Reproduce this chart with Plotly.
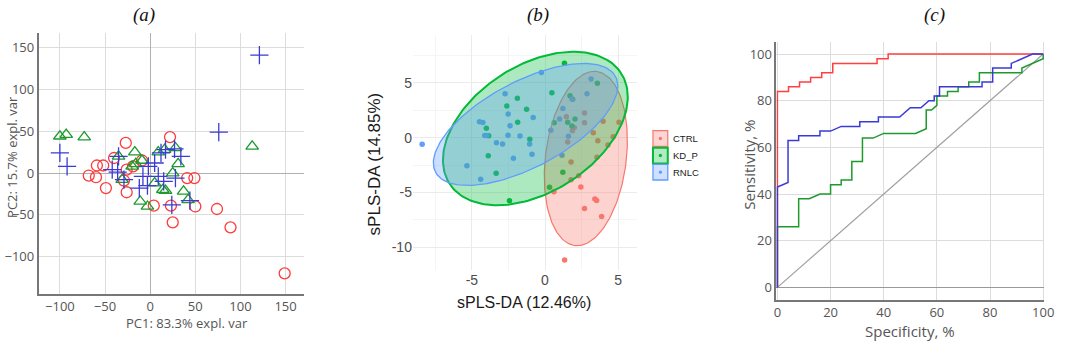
import numpy as np
import plotly.graph_objects as go

W, H = 1065, 342

# ---------------- Panel (a): PCA scores ----------------
PCA_CTRL_X = [22, -27, -40, -9, -59, -52, -68, -60, -49, -19, -26, -29, -26, 4, 23, 25, 41, 49, 50, 74, 89, 149]
PCA_CTRL_Y = [43, 36, 18, 15, 9, 9, -3, -5, -18, 8, 4, -9, -23, -39, -39, -59, -6, -6, -40, -43, -65, -120]
PCA_KD_X = [-100, -93, -73, 113, -35, -17, -16, -9, -20, 9, 16, 28, 31, 25, 5, 14, 17, 37, 42, -11, -3, -31]
PCA_KD_Y = [44, 46, 43, 32, 20, 25, 11, 15, 8, 25, 28, 30, 11, 0, -12, -20, -21, -22, -32, -34, -40, -8]
PCA_RNLC_X = [121, 76, -100, -92, -42, -36, -35, -29, -2, 5, 12, 17, 27, 34, -8, 9, 15, 28, -12, -3, 24, 44]
PCA_RNLC_Y = [141, 49, 24, 8, 4, 1, 20, -8, 8, 12, 24, 28, 29, 20, -4, -4, -10, -6, -18, -15, -38, -33]
PCA_TICKS = [-100, -50, 0, 50, 100, 150]

# ---------------- Panel (b): sPLS-DA ----------------
GROUPS = ["CTRL", "KD_P", "RNLC"]
SPLS_CTRL_X = [1.46, 2.7, 2.7, 2.0, 1.87, 1.55, 3.97, 3.3, 5.06, 4.66, 3.61, 4.3, 3.55, 1.78, 2.3, 1.78, 2.45, 0.61, 3.41, 3.53, 2.7, 3.87, 1.34]
SPLS_CTRL_Y = [1.92, 2.25, 1.37, 0.9, 0.64, -0.4, 1.49, 0.46, 1.42, 0.09, -0.28, -0.67, -1.79, -2.22, -3.47, -3.83, -4.5, -4.93, -5.6, -5.72, -6.47, -7.2, -11.16]
SPLS_KD_X = [1.33, 3.58, 0.47, -1.89, -2.61, -1.26, 1.71, 1.89, -1.87, 0.63, 1.55, 2.05, 1.84, -4.01, -3.85, -1.04, -3.88, -3.34, 1.22, 0.31, -2.43]
SPLS_KD_Y = [6.79, 4.96, 4.11, 3.59, 2.89, 2.59, 3.83, 3.5, 1.4, 1.37, 1.4, 1.71, 1.07, 0.86, 0.18, -0.15, -1.64, -3.25, -3.16, -4.53, -5.75]
SPLS_RNLC_X = [-8.4, -0.25, 3.15, -2.73, -4.48, -4.25, -4.12, -3.98, -2.52, -2.39, -2.53, -1.71, -0.81, -1.05, -0.89, -3.32, -2.9, -2.16, -5.34, -4.4, 0.4, 1.0, 1.22, 1.6, 1.16, 1.85, 2.87]
SPLS_RNLC_Y = [-0.6, 5.95, 5.36, 4.02, 1.46, 1.38, 0.2, 0.2, 2.16, 1.08, 0.23, 0.16, 1.85, -0.58, -1.5, -0.46, -0.58, -1.88, -2.56, -3.8, 0.68, 1.7, 2.67, 0.13, -1.6, 3.52, 4.02]
# confidence ellipses: centre, semi-axes, rotation (deg) for CTRL, KD_P, RNLC
ELL_CX = [2.79, -0.66, -1.33]
ELL_CY = [-1.90, 0.84, 1.21]
ELL_A = [7.98, 7.95, 7.61]
ELL_B = [2.77, 5.07, 3.58]
ELL_ANG = [85.2, 52.0, 39.4]
SPLS_XTICKS = [-5, 0, 5]
SPLS_XLABELS = ["-5", "0", "5"]
SPLS_YTICKS = [-10, -5, 0, 5]
SPLS_YLABELS = ["-10", "-5", "0", "5"]

# ---------------- Panel (c): ROC curves ----------------
ROC_RED_X = [0, 0, 4.17, 4.17, 8.33, 8.33, 12.5, 12.5, 16.67, 16.67, 20.83, 20.83, 37.5, 37.5, 41.67, 41.67, 100]
ROC_RED_Y = [0, 84, 84, 86, 86, 88, 88, 90, 90, 92, 92, 96, 96, 98, 98, 100, 100]
ROC_BLUE_X = [0, 0, 4, 4, 8, 8, 16, 16, 20, 24, 31, 31, 38, 38, 46, 48, 50, 54, 57, 59, 59, 61, 61, 77, 77, 81, 81, 88, 88, 96, 100]
ROC_BLUE_Y = [0, 43, 45, 63, 63, 65, 65, 67, 67, 69, 69, 71, 71, 73, 73, 75, 77, 77, 80, 80, 82, 82, 86, 86, 88, 88, 94, 94, 96, 100, 100]
ROC_GREEN_X = [0, 0, 8, 8, 12, 16, 20, 20, 24, 24, 28, 28, 32, 32, 36, 40, 52, 56, 56, 58, 60, 60, 64, 64, 68, 68, 72, 72, 76, 76, 92, 92, 100, 100]
ROC_GREEN_Y = [0, 26, 26, 38, 38, 40, 40, 44, 44, 46, 46, 54, 54, 64, 64, 66, 66, 68, 76, 76, 78, 82, 82, 84, 84, 86, 86, 88, 88, 92, 92, 94, 98, 100]
ROC_DIAG = [0, 100]
ROC_TICKS = [0, 20, 40, 60, 80, 100]

fig = go.Figure()

def fx(p):
    return p / W

def fy(p):
    return 1 - p / H

# ---- panel a traces
RED_A, GREEN_A, BLUE_A = "#ff3b3b", "#1c9a2c", "#3a3ad6"
fig.add_trace(go.Scatter(x=PCA_CTRL_X, y=PCA_CTRL_Y, mode="markers", xaxis="x", yaxis="y",
                         marker=dict(symbol="circle-open", size=11, color=RED_A, line=dict(width=1.3, color=RED_A))))
fig.add_trace(go.Scatter(x=PCA_KD_X, y=PCA_KD_Y, mode="markers", xaxis="x", yaxis="y",
                         marker=dict(symbol="triangle-up-open", size=11, color=GREEN_A, line=dict(width=1.3, color=GREEN_A))))
fig.add_trace(go.Scatter(x=PCA_RNLC_X, y=PCA_RNLC_Y, mode="markers", xaxis="x", yaxis="y",
                         marker=dict(symbol="cross-thin-open", size=13, color=BLUE_A, line=dict(width=1.3, color=BLUE_A))))

# ---- panel b traces
GG = ["#F8766D", "#00BA38", "#619CFF"]
GG_RGB = [(248, 118, 109), (0, 186, 56), (97, 156, 255)]
ELL_LW = [1.2, 2.0, 1.3]
pts = [(SPLS_CTRL_X, SPLS_CTRL_Y), (SPLS_KD_X, SPLS_KD_Y), (SPLS_RNLC_X, SPLS_RNLC_Y)]
for (xs, ys), col in zip(pts, GG):
    fig.add_trace(go.Scatter(x=xs, y=ys, mode="markers", xaxis="x2", yaxis="y2",
                             marker=dict(size=5.5, color=col, line=dict(width=0))))
phi = np.linspace(0, 2 * np.pi, 200)
for i in range(3):
    th = np.deg2rad(ELL_ANG[i])
    ex = ELL_CX[i] + ELL_A[i] * np.cos(th) * np.cos(phi) - ELL_B[i] * np.sin(th) * np.sin(phi)
    ey = ELL_CY[i] + ELL_A[i] * np.sin(th) * np.cos(phi) + ELL_B[i] * np.cos(th) * np.sin(phi)
    r, g, b = GG_RGB[i]
    fig.add_trace(go.Scatter(x=ex, y=ey, mode="lines", fill="toself", xaxis="x2", yaxis="y2",
                             fillcolor=f"rgba({r},{g},{b},0.32)",
                             line=dict(color=GG[i], width=ELL_LW[i])))

# ---- panel c traces
fig.add_trace(go.Scatter(x=ROC_DIAG, y=ROC_DIAG, mode="lines", xaxis="x3", yaxis="y3",
                         line=dict(color="#a0a0a0", width=1.2)))
fig.add_trace(go.Scatter(x=ROC_GREEN_X, y=ROC_GREEN_Y, mode="lines", xaxis="x3", yaxis="y3",
                         line=dict(color="#1c9a2c", width=1.5)))
fig.add_trace(go.Scatter(x=ROC_RED_X, y=ROC_RED_Y, mode="lines", xaxis="x3", yaxis="y3",
                         line=dict(color="#ff4040", width=1.5)))
fig.add_trace(go.Scatter(x=ROC_BLUE_X, y=ROC_BLUE_Y, mode="lines", xaxis="x3", yaxis="y3",
                         line=dict(color="#3a3ad6", width=1.5)))

TF_A = dict(family="Open Sans", size=13, color="#555555")
TF_B = dict(family="Liberation Sans", size=14, color="#4d4d4d")

common_ac = dict(showgrid=True, gridcolor="#dcdcdc", gridwidth=1, ticks="",
                 showline=True, linecolor="#777777", linewidth=1.5, tickfont=TF_A)

fig.update_layout(
    width=W, height=H, margin=dict(l=0, r=0, t=0, b=0),
    paper_bgcolor="white", plot_bgcolor="white", showlegend=False,
    xaxis=dict(domain=[fx(36), fx(305)], range=[-123.6, 170.7], tickvals=PCA_TICKS, anchor="y",
               zeroline=True, zerolinecolor="#b0b0b0", zerolinewidth=1, **common_ac),
    yaxis=dict(domain=[fy(294), fy(33)], range=[-144.7, 167.5], tickvals=PCA_TICKS, anchor="x",
               zeroline=True, zerolinecolor="#b0b0b0", zerolinewidth=1, **common_ac),
    xaxis2=dict(domain=[fx(415), fx(642)], range=[-9.03, 6.3], tickvals=SPLS_XTICKS, ticktext=SPLS_XLABELS,
                anchor="y2", showgrid=True, gridcolor="#ebebeb", gridwidth=1, zeroline=False, showline=False,
                ticks="", tickfont=TF_B,
                minor=dict(tickmode="array", tickvals=[-7.5, -2.5, 2.5], showgrid=True, gridcolor="#f5f5f5", gridwidth=0.8)),
    yaxis2=dict(domain=[fy(270), fy(35)], range=[-12.07, 9.37], tickvals=SPLS_YTICKS, ticktext=SPLS_YLABELS,
                anchor="x2", showgrid=True, gridcolor="#ebebeb", gridwidth=1, zeroline=False, showline=False,
                ticks="", tickfont=TF_B,
                minor=dict(tickmode="array", tickvals=[-7.5, -2.5, 2.5, 7.5], showgrid=True, gridcolor="#f5f5f5", gridwidth=0.8)),
    xaxis3=dict(domain=[fx(782.9), fx(1054.1)], range=[-0.4, 100.4], tickvals=ROC_TICKS, anchor="y3",
                zeroline=False, **common_ac),
    yaxis3=dict(domain=[fy(300), fy(41.7)], range=[-5.4, 105.3], tickvals=ROC_TICKS, anchor="x3",
                zeroline=True, zerolinecolor="#999999", zerolinewidth=1.2, **common_ac),
)

ann = []
def text(x, y, s, font, angle=0, xanchor="center"):
    ann.append(dict(x=fx(x), y=fy(y), xref="paper", yref="paper", text=s, showarrow=False,
                    font=font, textangle=angle, xanchor=xanchor, yanchor="middle"))

TITLE_F = dict(family="Liberation Serif", size=19, color="#111111")
text(143, 15, "<i>(a)</i>", TITLE_F)
text(542, 15, "<i>(b)</i>", TITLE_F)
text(943, 15, "<i>(c)</i>", TITLE_F)

AX_A = dict(family="Open Sans", size=13, color="#555555")
text(186, 323, "PC1: 83.3% expl. var", AX_A)
text(9, 157, "PC2: 15.7% expl. var", AX_A, angle=-90)
AX_B = dict(family="Liberation Sans", size=16, color="#1a1a1a")
text(527.5, 302.7, "sPLS-DA (12.46%)", AX_B)
text(376, 164, "sPLS-DA (14.85%)", dict(family="Liberation Sans", size=17, color="#1a1a1a"), angle=-90)
AX_C = dict(family="Open Sans", size=15, color="#555555")
text(918, 331, "Specificity, %", AX_C)
text(755, 165, "Sensitivity, %", AX_C, angle=-90)

# legend for panel b (drawn as layout shapes)
shapes = []
LEG_TOP = [130.7, 147.7, 164.3]
for i, g in enumerate(GROUPS):
    r, gg, b = GG_RGB[i]
    y0, y1 = LEG_TOP[i], LEG_TOP[i] + 15.7
    shapes.append(dict(type="rect", xref="paper", yref="paper", x0=fx(658), x1=fx(673), y0=fy(y1), y1=fy(y0),
                       fillcolor=f"rgba({r},{gg},{b},0.3)", line=dict(color=GG[i], width=ELL_LW[i])))
    yc = (y0 + y1) / 2
    shapes.append(dict(type="circle", xref="paper", yref="paper", x0=fx(663.8), x1=fx(667.2), y0=fy(yc + 1.7), y1=fy(yc - 1.7),
                       fillcolor=GG[i], line=dict(width=0)))
    text(676, yc, g, dict(family="Liberation Sans", size=9.5, color="#1a1a1a"), xanchor="left")

fig.update_layout(annotations=ann, shapes=shapes)
fig.write_html("out.html", config={"displayModeBar": False},
               post_script="document.body.style.margin='0';document.body.style.overflow='hidden';")
